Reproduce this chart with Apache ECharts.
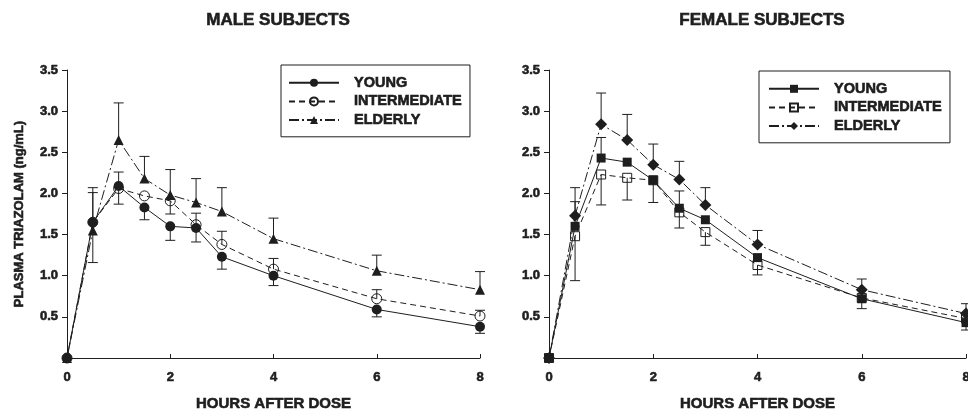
<!DOCTYPE html>
<html>
<head>
<meta charset="utf-8">
<script src="https://cdn.jsdelivr.net/npm/echarts@6/dist/echarts.min.js"></script>
<style>
  html, body { margin: 0; padding: 0; background: #fff; }
  #chart { width: 968px; height: 410px; }
</style>
</head>
<body>
<div id="chart"></div>
<script>
// hours after dose
const times = [0, 0.5, 1, 1.5, 2, 2.5, 3, 4, 6, 8];

// male subjects, mean plasma triazolam (ng/mL)
const maleYoung = [0, 1.65, 2.09, 1.83, 1.60, 1.58, 1.23, 1.00, 0.59, 0.38];
const maleInter = [0, 1.65, 2.06, 1.97, 1.91, 1.62, 1.38, 1.08, 0.72, 0.51];
const maleElderly = [0, 1.55, 2.65, 2.18, 1.98, 1.89, 1.78, 1.45, 1.06, 0.83];
// end of the error bar (null = no bar drawn)
const maleYoungCap = [null, 2.07, 2.26, 1.68, 1.43, 1.41, 1.08, 0.88, 0.50, 0.30];
const maleInterCap = [null, 2.01, 1.87, null, 1.75, 1.76, 1.54, 1.21, 0.83, 0.58];
const maleElderlyCap = [null, 1.16, 3.10, 2.45, 2.29, 2.18, 2.07, 1.70, 1.25, 1.05];

// female subjects
const femYoung = [0, 1.60, 2.43, 2.38, 2.16, 1.82, 1.68, 1.22, 0.72, 0.43];
const femInter = [0, 1.48, 2.23, 2.19, 2.16, 1.77, 1.53, 1.13, 0.73, 0.48];
const femElderly = [0, 1.73, 2.84, 2.65, 2.35, 2.17, 1.86, 1.38, 0.83, 0.54];
const femYoungCap = [null, 1.90, 2.68, null, null, 2.03, null, null, 0.60, 0.34];
const femInterCap = [null, 0.94, 1.86, 1.92, 1.89, 1.58, 1.37, 1.01, null, null];
const femElderlyCap = [null, 2.07, 3.22, 2.96, 2.60, 2.39, 2.07, 1.55, 0.96, 0.66];

const xTicks = [0, 2, 4, 6, 8];
const groups = ['YOUNG', 'INTERMEDIATE', 'ELDERLY'];

const ink = '#1e1e1e';
const font = 'Liberation Sans, Arial, sans-serif';
// the original lettering is a very heavy sans, a thin outline thickens it
const heavy = { color: ink, fontFamily: font, fontWeight: 'bold', textBorderColor: ink, textBorderWidth: 0.6 };

let dom = document.getElementById('chart');
let myChart = echarts.init(dom, null, { renderer: 'canvas' });

function pairs(vals) {
  return times.map((t, i) => [t, vals[i]]);
}

function lineSerie(name, idx, vals, symbol, size, dash, open) {
  return {
    name: name,
    type: 'line',
    xAxisIndex: idx,
    yAxisIndex: idx,
    data: pairs(vals),
    symbol: symbol,
    symbolSize: size,
    z: 3,
    lineStyle: { color: ink, width: 1, type: dash },
    itemStyle: open
      ? { color: 'rgba(255,255,255,0)', borderColor: ink, borderWidth: 1 }
      : { color: ink, borderColor: ink, borderWidth: 0 }
  };
}

function errSerie(idx, vals, caps) {
  let data = [];
  times.forEach((t, i) => {
    if (caps[i] != null) data.push([t, vals[i], caps[i]]);
  });
  return {
    type: 'custom',
    xAxisIndex: idx,
    yAxisIndex: idx,
    silent: true,
    z: 1,
    data: data,
    renderItem: function (params, api) {
      const p0 = api.coord([api.value(0), api.value(1)]);
      const p1 = api.coord([api.value(0), api.value(2)]);
      return {
        type: 'group',
        children: [
          { type: 'line', shape: { x1: p0[0], y1: p0[1], x2: p1[0], y2: p1[1] }, style: { stroke: ink, lineWidth: 1 } },
          { type: 'line', shape: { x1: p1[0] - 5, y1: p1[1], x2: p1[0] + 5, y2: p1[1] }, style: { stroke: ink, lineWidth: 1 } }
        ]
      };
    }
  };
}

function xAxisOf(idx) {
  return {
    gridIndex: idx,
    type: 'value',
    min: 0,
    max: 8,
    interval: 2,
    name: 'HOURS AFTER DOSE',
    nameLocation: 'middle',
    nameGap: 46,
    nameTextStyle: Object.assign({}, heavy, { fontSize: 15, verticalAlign: 'middle' }),
    axisLine: { lineStyle: { color: ink, width: 1 } },
    axisTick: { inside: true, length: 4, lineStyle: { color: ink } },
    axisLabel: Object.assign({}, heavy, { fontSize: 13, margin: 13,
      formatter: v => (xTicks.indexOf(v) >= 0 ? String(v) : '') }),
    splitLine: { show: false }
  };
}

function yAxisOf(idx, withName) {
  return {
    gridIndex: idx,
    type: 'value',
    min: 0,
    max: 3.5,
    interval: 0.5,
    name: withName ? 'PLASMA TRIAZOLAM (ng/mL)' : '',
    nameLocation: 'middle',
    nameGap: 48,
    nameTextStyle: Object.assign({}, heavy, { fontSize: 13, verticalAlign: 'middle' }),
    axisLine: { show: true, lineStyle: { color: ink, width: 1 } },
    axisTick: { show: true, length: 5, lineStyle: { color: ink } },
    axisLabel: Object.assign({}, heavy, { fontSize: 13, margin: 9,
      formatter: v => (v === 0 ? '' : v.toFixed(1)) }),
    splitLine: { show: false }
  };
}

function legendOf(prefix, left, top, pad) {
  return {
    orient: 'vertical',
    left: left,
    top: top,
    padding: pad,
    borderColor: ink,
    borderWidth: 1,
    itemWidth: 50,
    itemHeight: 10,
    itemGap: 3,
    selectedMode: false,
    data: groups.map(g => prefix + g),
    formatter: n => n.slice(2),
    textStyle: Object.assign({}, heavy, { fontSize: 14.5, padding: [0, 0, 0, 10] })
  };
}

let option = {
  animation: false,
  backgroundColor: '#fff',
  title: [
    { text: 'MALE SUBJECTS', left: 273, top: 7, textAlign: 'center',
      textStyle: Object.assign({}, heavy, { fontSize: 17 }) },
    { text: 'FEMALE SUBJECTS', left: 757, top: 7, textAlign: 'center',
      textStyle: Object.assign({}, heavy, { fontSize: 17 }) }
  ],
  legend: [
    legendOf('M_', 281, 65, [10, 8, 9, 7]),
    legendOf('F_', 759, 71, [10, 8, 9, 9])
  ],
  grid: [
    { left: 67, right: 488, top: 70, bottom: 52, outerBoundsMode: 'none' },
    { left: 549, right: 2, top: 70, bottom: 52, outerBoundsMode: 'none' }
  ],
  xAxis: [xAxisOf(0), xAxisOf(1)],
  yAxis: [yAxisOf(0, true), yAxisOf(1, false)],
  series: [
    errSerie(0, maleYoung, maleYoungCap),
    errSerie(0, maleInter, maleInterCap),
    errSerie(0, maleElderly, maleElderlyCap),
    lineSerie('M_YOUNG', 0, maleYoung, 'circle', 10, 'solid', false),
    lineSerie('M_INTERMEDIATE', 0, maleInter, 'circle', 10, [6, 4], true),
    lineSerie('M_ELDERLY', 0, maleElderly, 'triangle', 10, [10, 3, 2, 3], false),
    errSerie(1, femYoung, femYoungCap),
    errSerie(1, femInter, femInterCap),
    errSerie(1, femElderly, femElderlyCap),
    lineSerie('F_YOUNG', 1, femYoung, 'rect', 9, 'solid', false),
    lineSerie('F_INTERMEDIATE', 1, femInter, 'rect', 9, [6, 4], true),
    lineSerie('F_ELDERLY', 1, femElderly, 'diamond', 12, [10, 3, 2, 3], false)
  ]
};

if (option && typeof option === 'object') {
  myChart.setOption(option);
}

window.addEventListener('resize', myChart.resize);
</script>
</body>
</html>
